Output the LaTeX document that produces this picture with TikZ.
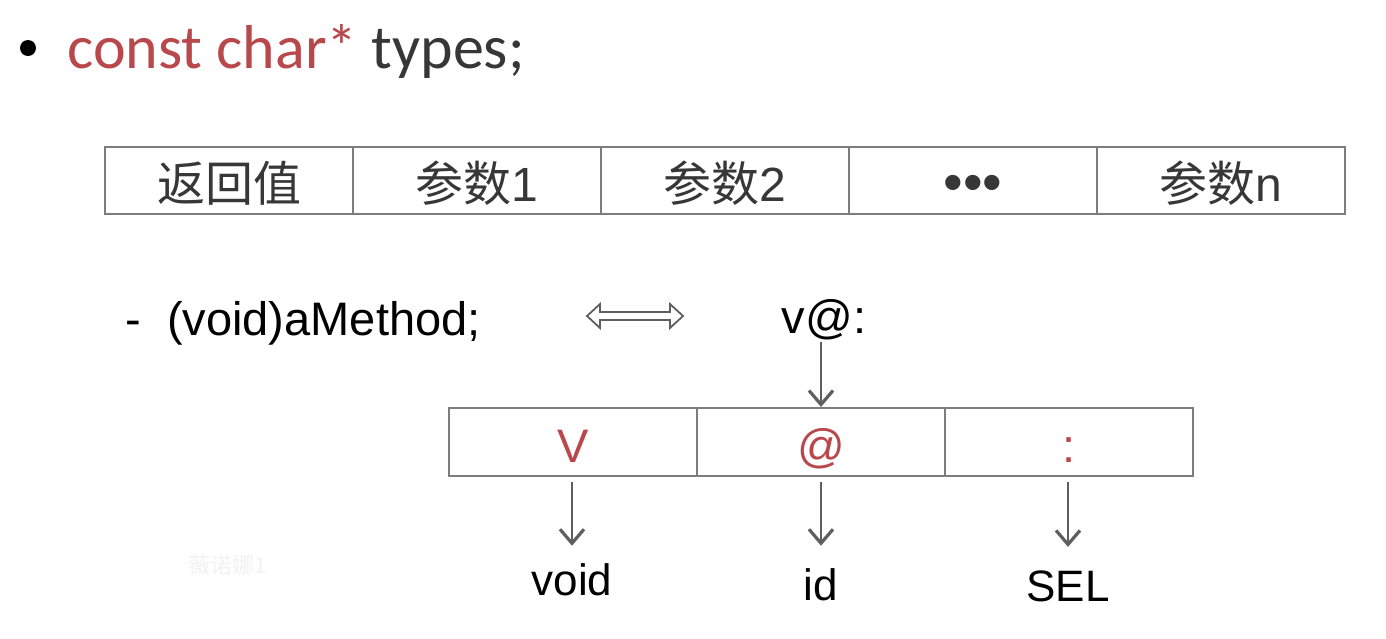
\documentclass[tikz,border=0pt]{standalone}
\usepackage{fontspec}
\setmainfont{Liberation Sans}
\newfontfamily\carlitofont{Carlito}
\newfontfamily\cjk{Noto Sans CJK SC}
\usetikzlibrary{arrows.meta}
\definecolor{accentred}{RGB}{185,72,77}
\definecolor{darktext}{RGB}{55,55,55}
\definecolor{boxgray}{RGB}{125,125,125}
\definecolor{arrowgray}{RGB}{95,95,95}
\begin{document}
\begin{tikzpicture}[x=0.5pt,y=-0.5pt,
  topcell/.style={draw=boxgray, line width=1pt, minimum width=124pt, minimum height=33.5pt,
    inner sep=0pt, text height=21pt, text depth=0pt, text=darktext, font=\fontsize{24}{28}\selectfont},
  botcell/.style={draw=boxgray, line width=1pt, minimum width=124pt, minimum height=34pt,
    inner sep=0pt, text height=20pt, text depth=0pt, text=accentred, font=\fontsize{23.5}{27}\selectfont},
  plain/.style={inner sep=0pt, font=\fontsize{23.5}{27}\selectfont, text=black},
  lab/.style={inner sep=0pt, font=\fontsize{22}{26}\selectfont, text=black},
  arr/.style={draw=arrowgray, line width=1pt, -{Straight Barb[length=7pt,width=12pt,line width=1.6pt]}}
]
\fill[white] (0,0) rectangle (1386,638);
\useasboundingbox (0,0) rectangle (1386,638);

% title
\node[circle, fill=black, minimum size=8pt, inner sep=0pt] (bullet) at (28,48) {};
\node[anchor=base west, inner sep=0pt, font=\carlitofont\fontsize{31}{36}\selectfont] (title) at (67,68)
  {\textcolor{accentred}{const char*} \textcolor{darktext}{types;}};

% top table
\node[topcell] (t1) at (229,180.5) {\cjk 返回值};
\node[topcell] (t2) at (477,180.5) {\cjk 参数\rmfamily 1};
\node[topcell] (t3) at (725,180.5) {\cjk 参数\rmfamily 2};
\node[topcell, font=\fontsize{28}{30}\selectfont] (t4) at (973,180.5) {•••};
\node[topcell] (t5) at (1221,180.5) {\cjk 参数\rmfamily n};

% method line
\node[plain, anchor=base west] (method) at (125,335) {-\ \ (void)aMethod;};
\draw[draw=arrowgray, line width=0.9pt, line join=miter]
  (587,316) -- (600,304) -- (600,312) -- (670,312) -- (670,304) -- (683,316)
  -- (670,328) -- (670,320) -- (600,320) -- (600,328) -- cycle;
\node[plain, anchor=base] (vat) at (824,333) {v@:};

% bottom table
\node[botcell] (c1) at (573,442) {V};
\node[botcell] (c2) at (821,442) {@};
\node[botcell] (c3) at (1069,442) {:};

\draw[arr, shorten <=1pt] (vat.south -| c2.north) -- (c2.north);

% labels
\node[lab, anchor=base] (lvoid) at (572,595) {void};
\node[lab, anchor=base] (lid) at (821,600) {id};
\node[lab, anchor=base] (lsel) at (1068,601) {SEL};

\draw[arr, shorten <=2.5pt, shorten >=8.5pt] (c1.south -| lvoid.north) -- (lvoid.north);
\draw[arr, shorten <=2.5pt, shorten >=11pt] (c2.south -| lid.north) -- (lid.north);
\draw[arr, shorten <=2.5pt, shorten >=11.5pt] (c3.south -| lsel.north) -- (lsel.north);

% faint watermark
\node[inner sep=0pt, text=black!5, font=\cjk\fontsize{11}{13}\selectfont] (wm) at (228,565) {薇诺娜1};
\end{tikzpicture}
\end{document}
